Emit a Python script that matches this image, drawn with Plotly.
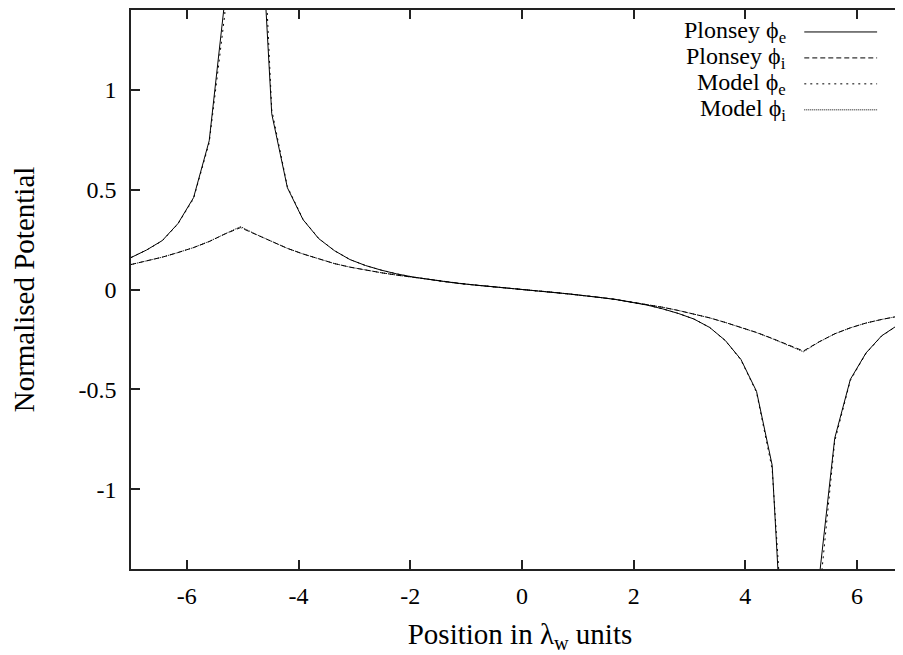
import plotly.graph_objects as go

# sample positions (lambda_w units)
x_pos = [-7.00, -6.72, -6.44, -6.16, -5.88, -5.60, -5.32, -5.04, -4.76, -4.48,
         -4.20, -3.92, -3.64, -3.36, -3.08, -2.80, -2.52, -2.24, -1.96, -1.68,
         -1.40, -1.12, -0.84, -0.56, -0.28, 0.00, 0.28, 0.56, 0.84, 1.12,
         1.40, 1.68, 1.96, 2.24, 2.52, 2.80, 3.08, 3.36, 3.64, 3.92,
         4.20, 4.48, 4.76, 5.04, 5.32, 5.60, 5.88, 6.16, 6.44, 6.72, 7.00]

plonsey_phi_e = [0.160, 0.198, 0.245, 0.330, 0.460, 0.745, 1.45, 20.0, 2.30, 0.880,
                 0.510, 0.350, 0.255, 0.195, 0.150, 0.120, 0.097, 0.078, 0.063, 0.050,
                 0.040, 0.030, 0.022, 0.015, 0.007, 0.000, -0.007, -0.015, -0.022, -0.030,
                 -0.040, -0.050, -0.063, -0.078, -0.097, -0.120, -0.148, -0.190, -0.255, -0.350,
                 -0.510, -0.880, -2.30, -20.0, -1.45, -0.745, -0.450, -0.318, -0.232, -0.180, -0.145]

plonsey_phi_i = [0.125, 0.142, 0.162, 0.185, 0.210, 0.240, 0.278, 0.310, 0.275, 0.240,
                 0.206, 0.178, 0.152, 0.130, 0.112, 0.097, 0.084, 0.072, 0.061, 0.050,
                 0.040, 0.031, 0.022, 0.014, 0.007, 0.000, -0.007, -0.014, -0.022, -0.031,
                 -0.040, -0.050, -0.062, -0.075, -0.089, -0.105, -0.122, -0.142, -0.165, -0.190,
                 -0.215, -0.245, -0.275, -0.308, -0.262, -0.222, -0.192, -0.168, -0.150, -0.135, -0.120]

model_phi_e = [0.160, 0.198, 0.244, 0.328, 0.455, 0.735, 1.38, 20.0, 2.60, 0.900,
               0.515, 0.352, 0.256, 0.195, 0.150, 0.120, 0.097, 0.078, 0.063, 0.050,
               0.040, 0.030, 0.022, 0.015, 0.007, 0.000, -0.007, -0.015, -0.022, -0.030,
               -0.040, -0.050, -0.063, -0.078, -0.097, -0.120, -0.148, -0.190, -0.256, -0.352,
               -0.515, -0.900, -2.10, -20.0, -1.55, -0.760, -0.455, -0.320, -0.233, -0.181, -0.145]

model_phi_i = [0.125, 0.142, 0.162, 0.185, 0.210, 0.241, 0.280, 0.315, 0.276, 0.240,
               0.206, 0.178, 0.152, 0.130, 0.112, 0.097, 0.084, 0.072, 0.061, 0.050,
               0.040, 0.031, 0.022, 0.014, 0.007, 0.000, -0.007, -0.014, -0.022, -0.031,
               -0.040, -0.050, -0.062, -0.075, -0.089, -0.105, -0.122, -0.142, -0.165, -0.190,
               -0.216, -0.246, -0.277, -0.312, -0.263, -0.222, -0.192, -0.168, -0.150, -0.135, -0.120]

series_names = ["Plonsey ϕ<sub>e</sub>", "Plonsey ϕ<sub>i</sub>",
                "Model ϕ<sub>e</sub>", "Model ϕ<sub>i</sub>"]
series_values = [plonsey_phi_e, plonsey_phi_i, model_phi_e, model_phi_i]
series_dash = ["solid", "5px,3px", "2px,4px", "1px,1px"]

x_tick_vals = [-6, -4, -2, 0, 2, 4, 6]
x_tick_text = ["-6", "-4", "-2", "0", "2", "4", "6"]
y_tick_vals = [-1, -0.5, 0, 0.5, 1]
y_tick_text = ["-1", "-0.5", "0", "0.5", "1"]

FONT = "Liberation Serif, DejaVu Serif, serif"
FS = 24

fig = go.Figure()
for name, vals, dash in zip(series_names, series_values, series_dash):
    fig.add_trace(go.Scatter(x=x_pos, y=vals, mode="lines", name=name,
                             line=dict(color="black", width=1, dash=dash),
                             showlegend=False, hoverinfo="skip"))

# gnuplot-style key: right-aligned labels with line samples to their right
key_rows = [0.9607, 0.9143, 0.8679, 0.8214]
for name, dash, yk in zip(series_names, series_dash, key_rows):
    fig.add_annotation(xref="paper", yref="paper", x=0.8449, y=yk, text=name,
                       showarrow=False, xanchor="right", yanchor="middle",
                       font=dict(family=FONT, size=FS, color="black"))
    fig.add_shape(type="line", xref="paper", yref="paper", x0=0.8654, x1=0.9590,
                  y0=yk, y1=yk, line=dict(color="black", width=1, dash=dash))

# the page body adds an 8 px offset; the frame runs slightly past the window's right edge
fig.update_layout(
    width=903, height=647,
    margin=dict(l=123, r=0, t=1, b=86),
    paper_bgcolor="white", plot_bgcolor="white",
    font=dict(family=FONT, size=FS, color="black"),
    xaxis=dict(range=[-7, 6.93], tickvals=x_tick_vals, ticktext=x_tick_text,
               ticks="inside", ticklen=9, tickcolor="#222", tickwidth=1.5,
               showline=True, linecolor="#222", linewidth=1.5, mirror="ticks",
               showgrid=False, zeroline=False, ticklabelstandoff=4,
               title=dict(text="Position in λ<sub>w</sub> units", standoff=16)),
    yaxis=dict(range=[-1.4, 1.4], tickvals=y_tick_vals, ticktext=y_tick_text,
               ticks="inside", ticklen=9, tickcolor="#222", tickwidth=1.5,
               showline=True, linecolor="#222", linewidth=1.5, mirror="ticks",
               showgrid=False, zeroline=False, ticklabelstandoff=8,
               title=dict(text="Normalised Potential", standoff=36)),
)

fig.write_html("out.html")
